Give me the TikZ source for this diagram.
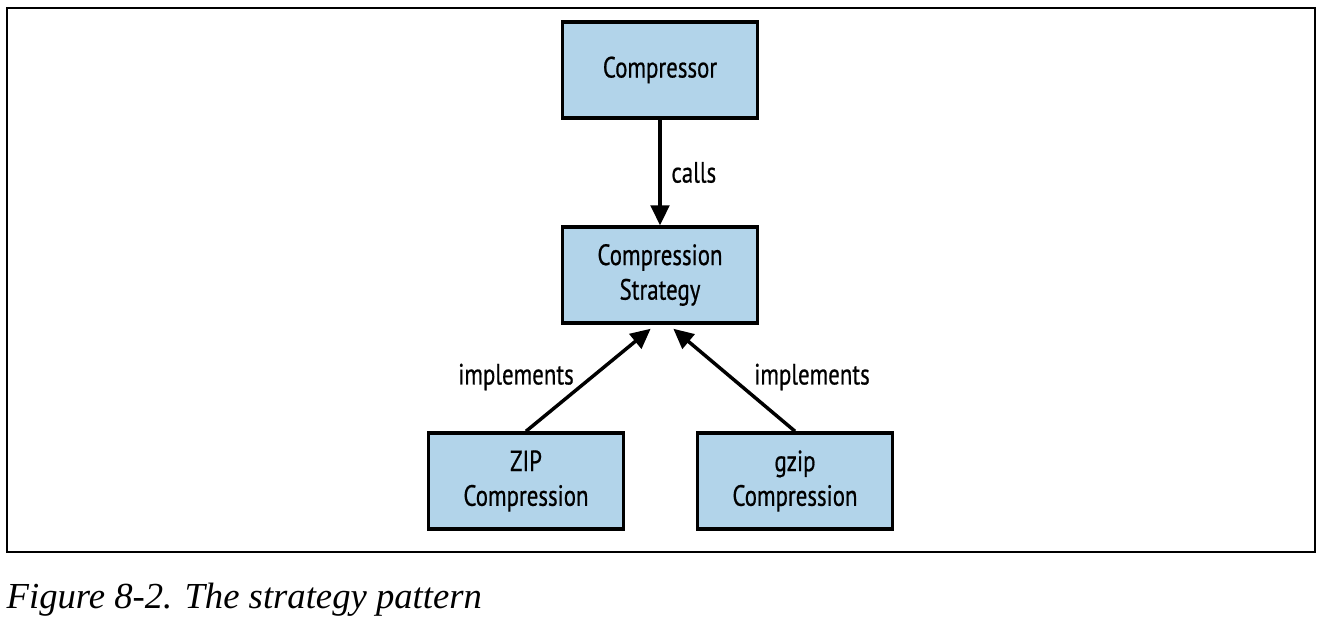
\documentclass[tikz,border=0pt]{standalone}
\usepackage{fontspec}
\setmainfont{Liberation Serif}
\newfontfamily\boxfont[FakeStretch=0.78,FakeBold=0.6]{PT Sans}
\usetikzlibrary{arrows.meta}
\definecolor{boxblue}{RGB}{178,212,234}
\tikzset{
	umlbox/.style = {draw, line width = 2.6pt, fill = boxblue, minimum width = 146pt, minimum height = 72pt, align = center, font = \boxfont\fontsize{22}{26}\selectfont},
	link/.style = {line width = 2.6pt, -{Triangle[length = 15pt, width = 14pt]}},
	lbl/.style = {font = \boxfont\fontsize{22}{26}\selectfont}
}
\begin{document}
\begin{tikzpicture}[x = 0.75pt, y = -0.75pt]
			\useasboundingbox (0,0) rectangle (1324,628);
			\draw[line width = 1.5pt] (7,8) rectangle (1315,552);
			\node[umlbox] (comp) at (660,70) {Compressor};
			\node[umlbox] (strat) at (660,275) {Compression\\Strategy};
			\node[umlbox] (zip) at (526,481) {ZIP\\Compression};
			\node[umlbox] (gzip) at (795,481) {gzip\\Compression};
			\draw[link] (comp.south)--(strat.north) node[lbl,midway,anchor = west,xshift = 4pt]{calls};
			\draw[link] (zip.north)--([xshift = -7pt,yshift = -3pt]strat.south);
			\draw[link] (gzip.north)--([xshift = 10pt,yshift = -3pt]strat.south);
			\node[lbl] (impl1) at (516,377) {implements};
			\node[lbl] (impl2) at (812,377) {implements};
			\node[anchor = west, font = \itshape\fontsize{27.5}{32}\selectfont] (cap) at (2,600) {Figure 8-2. The strategy pattern};
		\end{tikzpicture}
\end{document}
